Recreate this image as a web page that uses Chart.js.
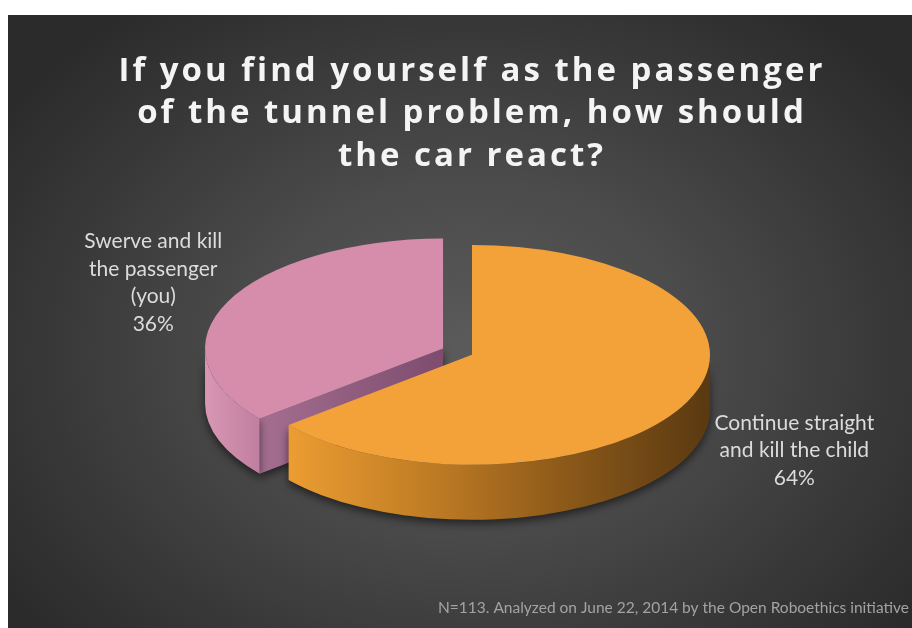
<!DOCTYPE html>
<html>
<head>
<meta charset="utf-8">
<script src="https://cdn.jsdelivr.net/npm/chart.js@4.4.0/dist/chart.umd.min.js"></script>
<style>
    html, body { margin: 0; padding: 0; background: #ffffff; }
    #wrap { position: relative; width: 912px; height: 628px; overflow: hidden; }
    #bg {
        position: absolute; left: 8px; top: 15px; right: 0; bottom: 0;
        background: radial-gradient(ellipse 62% 70% at 51% 55%, #5b5b5b 0%, #4b4b4b 40%, #383838 75%, #2b2b2b 100%);
    }
    #pieChart { position: absolute; left: 0; top: 0; }
</style>
</head>
<body>
<div id="wrap">
    <div id="bg"></div>
    <canvas id="pieChart" width="912" height="628"></canvas>
</div>
<script>
const titleLines = ['If you find yourself as the passenger', 'of the tunnel problem, how should', 'the car react?'];
const categories = ['Continue straight and kill the child', 'Swerve and kill the passenger (you)'];
const labelLines = [['Continue straight', 'and kill the child'], ['Swerve and kill', 'the passenger', '(you)']];
const shares = [64, 36];
const footnote = 'N=113. Analyzed on June 22, 2014 by the Open Roboethics initiative';

const topColors = ['#f2a238', '#d68dab'];

function midAngle(arc) {
    return (arc.startAngle + arc.endAngle) / 2;
}

// where the slice centre ends up on screen once tilted and pulled out
function sliceCentre(arc, explode, tilt) {
    const m = midAngle(arc);
    return {
        x: arc.x + Math.cos(m) * explode,
        y: arc.y + Math.sin(m) * explode * tilt
    };
}

function hGradient(ctx, x0, x1, stops) {
    const g = ctx.createLinearGradient(Math.min(x0, x1), 0, Math.max(x0, x1), 0);
    stops.forEach((c, i) => g.addColorStop(i / (stops.length - 1), c));
    return g;
}

const pie3d = {
    id: 'pie3d',
    beforeDraw(chart) {
        // the title is spaced out a bit more than the font does on its own
        chart.ctx.letterSpacing = '3px';
    },
    beforeDatasetsDraw(chart, args, opts) {
        const ctx = chart.ctx;
        ctx.letterSpacing = '0px';
        const arcs = chart.getDatasetMeta(0).data;
        const k = opts.tilt, D = opts.depth;

        const order = arcs.map((a, i) => i)
            .sort((i, j) => Math.sin(midAngle(arcs[i])) - Math.sin(midAngle(arcs[j])));

        order.forEach(i => {
            const arc = arcs[i];
            const R = arc.outerRadius;
            const c = sliceCentre(arc, opts.explode[i], k);
            const s = arc.startAngle, e = arc.endAngle;

            ctx.save();
            ctx.shadowColor = 'rgba(0,0,0,0.55)';
            ctx.shadowBlur = 9;
            ctx.shadowOffsetY = 4;

            // flat cut faces that point toward the viewer
            [[s, -Math.cos(s)], [e, Math.cos(e)]].forEach(([ang, facing]) => {
                if (facing <= 0.01) return;
                const px = c.x + R * Math.cos(ang);
                const py = c.y + R * k * Math.sin(ang);
                ctx.beginPath();
                ctx.moveTo(c.x, c.y);
                ctx.lineTo(px, py);
                ctx.lineTo(px, py + D);
                ctx.lineTo(c.x, c.y + D);
                ctx.closePath();
                ctx.fillStyle = hGradient(ctx, px, c.x, opts.faceColors[i]);
                ctx.fill();
            });

            // curved outer wall, front half only
            for (let n = -1; n <= 1; n++) {
                const a = Math.max(s, n * 2 * Math.PI);
                const b = Math.min(e, n * 2 * Math.PI + Math.PI);
                if (b <= a) continue;
                ctx.beginPath();
                ctx.ellipse(c.x, c.y, R, R * k, 0, a, b);
                ctx.ellipse(c.x, c.y + D, R, R * k, 0, b, a, true);
                ctx.closePath();
                const xa = c.x + R * Math.cos(a), xb = c.x + R * Math.cos(b);
                ctx.fillStyle = hGradient(ctx, Math.min(xa, xb), Math.max(xa, xb), opts.sideColors[i]);
                ctx.fill();
            }
            ctx.restore();
        });

        // top faces: the library's own arcs, squashed and pulled out
        arcs.forEach((arc, i) => {
            const m = midAngle(arc);
            ctx.save();
            ctx.translate(arc.x, arc.y);
            ctx.scale(1, k);
            ctx.translate(-arc.x, -arc.y);
            ctx.translate(Math.cos(m) * opts.explode[i], Math.sin(m) * opts.explode[i]);
            arc.draw(ctx);
            ctx.restore();
        });
        return false;
    },
    afterDraw(chart, args, opts) {
        const ctx = chart.ctx;
        const arcs = chart.getDatasetMeta(0).data;
        const k = opts.tilt, D = opts.depth;
        const values = chart.data.datasets[0].data;

        ctx.save();
        ctx.letterSpacing = '0px';
        ctx.font = '21px Lato';
        ctx.fillStyle = '#dcdcdc';
        ctx.textAlign = 'center';
        ctx.textBaseline = 'middle';
        arcs.forEach((arc, i) => {
            const m = midAngle(arc);
            const c = sliceCentre(arc, opts.explode[i], k);
            const R = arc.outerRadius;
            const lines = labelLines[i].concat(values[i] + '%');
            const w = Math.max(...lines.map(t => ctx.measureText(t).width));
            const ax = c.x + (R + opts.labelGap[i]) * Math.cos(m);
            const ay = c.y + R * k * Math.sin(m) + (Math.sin(m) > 0 ? D : 0) + opts.labelShift[i];
            const x = Math.cos(m) >= 0 ? ax + w / 2 : ax - w / 2;
            const lh = 27.5;
            lines.forEach((t, j) => ctx.fillText(t, x, ay + (j - (lines.length - 1) / 2) * lh));
        });

        ctx.font = '15.5px Lato';
        ctx.fillStyle = '#a3a3a3';
        ctx.textAlign = 'right';
        ctx.textBaseline = 'alphabetic';
        ctx.fillText(footnote, 909, 613);
        ctx.restore();
    }
};

const ctx = document.getElementById('pieChart').getContext('2d');
const pieChart = new Chart(ctx, {
    type: 'pie',
    data: {
        labels: categories,
        datasets: [{
            data: shares,
            backgroundColor: topColors,
            borderWidth: 0,
            radius: 238
        }]
    },
    options: {
        responsive: false,
        animation: false,
        events: [],
        layout: {
            padding: { top: 15, left: 32, right: 0, bottom: 106 }
        },
        plugins: {
            legend: { display: false },
            tooltip: { enabled: false },
            title: {
                display: true,
                text: titleLines,
                color: '#f4f4f4',
                font: { family: 'Open Sans', size: 33, weight: 'bold', lineHeight: 1.29 },
                padding: { top: 35, bottom: 10 }
            },
            pie3d: {
                tilt: 0.462,
                depth: 55,
                explode: [0, 32],
                sideColors: [['#ec9d32', '#c07c24', '#8a5819', '#5a3911'], ['#d897b3', '#c07f9f']],
                faceColors: [['#e0a034', '#b06d22'], ['#a46e90', '#7d4c6e']],
                labelGap: [30, 6],
                labelShift: [-6, -19]
            }
        }
    },
    plugins: [pie3d]
});
</script>
</body>
</html>
